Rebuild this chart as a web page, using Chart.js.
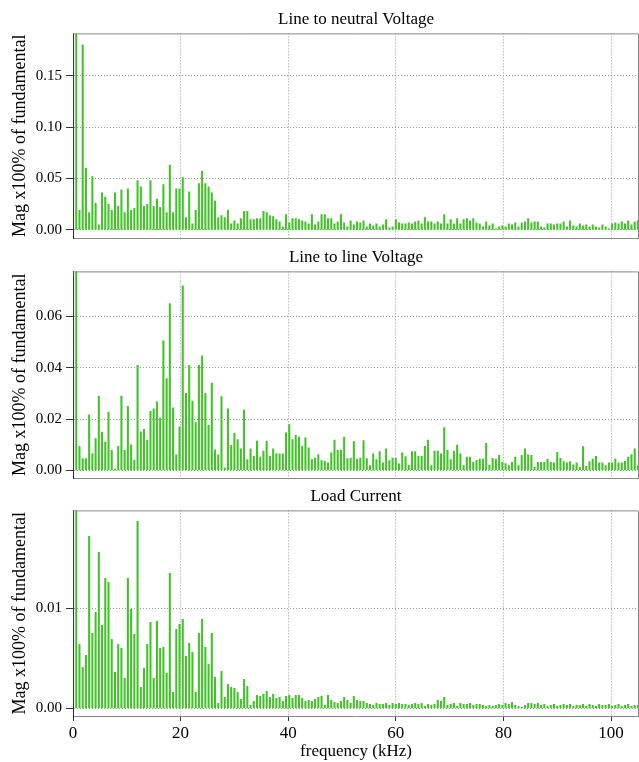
<!DOCTYPE html>
<html>
<head>
<meta charset="utf-8">
<script src="https://cdn.jsdelivr.net/npm/chart.js@4"></script>
<style>
  html, body { margin: 0; padding: 0; background: #fff; }
  #wrap { position: relative; width: 639px; height: 762px; }
  canvas { position: absolute; left: 0; }
</style>
</head>
<body>
<div id="wrap">
  <canvas id="c1" width="639" height="240" style="top:0px"></canvas>
  <canvas id="c2" width="639" height="240" style="top:240px"></canvas>
  <canvas id="c3" width="639" height="282" style="top:480px"></canvas>
</div>
<script>
// fundamental frequency of the harmonic series (kHz)
const F0 = 0.6;

// harmonic magnitudes, x100% of fundamental (harmonic 1 = fundamental)
const lineNeutral = [
  1.0, 0.019, 0.18, 0.06, 0.017, 0.052, 0.026, 0.005, 0.036, 0.032,
  0.025, 0.019, 0.036, 0.023, 0.039, 0.017, 0.040, 0.019, 0.021, 0.048,
  0.042, 0.023, 0.025, 0.048, 0.023, 0.030, 0.022, 0.044, 0.017, 0.063,
  0.017, 0.040, 0.040, 0.051, 0.012, 0.037, 0.006, 0.019, 0.045, 0.057,
  0.045, 0.042, 0.036, 0.028, 0.012, 0.014, 0.012, 0.019, 0.006, 0.009,
  0.006, 0.011, 0.018, 0.018, 0.010, 0.010, 0.011, 0.011, 0.018, 0.017,
  0.014, 0.013, 0.010, 0.008, 0.003, 0.015, 0.007, 0.011, 0.011, 0.010,
  0.009, 0.008, 0.006, 0.015, 0.005, 0.008, 0.015, 0.015, 0.011, 0.011,
  0.006, 0.008, 0.015, 0.007, 0.003, 0.009, 0.005, 0.008, 0.007, 0.009,
  0.003, 0.006, 0.004, 0.006, 0.003, 0.005, 0.010, 0.002, 0.003, 0.010,
  0.007, 0.006, 0.006, 0.007, 0.006, 0.008, 0.009, 0.006, 0.012, 0.008,
  0.008, 0.006, 0.008, 0.006, 0.015, 0.006, 0.010, 0.006, 0.011, 0.006,
  0.010, 0.011, 0.009, 0.011, 0.007, 0.006, 0.003, 0.008, 0.004, 0.006,
  0.001, 0.003, 0.004, 0.003, 0.006, 0.005, 0.007, 0.003, 0.007, 0.008,
  0.011, 0.007, 0.008, 0.008, 0.003, 0.002, 0.006, 0.006, 0.005, 0.006,
  0.006, 0.008, 0.003, 0.009, 0.004, 0.003, 0.006, 0.004, 0.005, 0.003,
  0.005, 0.003, 0.002, 0.005, 0.003, 0.001, 0.006, 0.007, 0.006, 0.008,
  0.006, 0.009, 0.005, 0.008, 0.009
];

const lineLine = [
  1.0, 0.0094, 0.0046, 0.0046, 0.0216, 0.0065, 0.0124, 0.029, 0.0149, 0.011,
  0.0227, 0.0078, 0.0005, 0.0094, 0.029, 0.0078, 0.025, 0.0099, 0.004, 0.041,
  0.015, 0.016, 0.0118, 0.023, 0.024, 0.0267, 0.0204, 0.0505, 0.0358, 0.065,
  0.0244, 0.006, 0.017, 0.072, 0.030, 0.041, 0.027, 0.0186, 0.041, 0.0447,
  0.030, 0.0175, 0.034, 0.008, 0.006, 0.0288, 0.001, 0.024, 0.0097, 0.0144,
  0.012, 0.0084, 0.0235, 0.0042, 0.0084, 0.0055, 0.0114, 0.0052, 0.0075, 0.0114,
  0.0055, 0.0084, 0.0065, 0.0064, 0.0064, 0.0146, 0.0178, 0.012, 0.0136, 0.013,
  0.0094, 0.0127, 0.0088, 0.0042, 0.0048, 0.0061, 0.0038, 0.0035, 0.0029, 0.0068,
  0.0118, 0.0078, 0.0078, 0.013, 0.0046, 0.0048, 0.0112, 0.0044, 0.0048, 0.0116,
  0.0046, 0.0018, 0.0064, 0.0042, 0.0073, 0.0029, 0.0084, 0.0038, 0.0048, 0.0047,
  0.0025, 0.0068, 0.0054, 0.002, 0.0073, 0.0073, 0.0055, 0.0055, 0.0094, 0.0118,
  0.0018, 0.0075, 0.0075, 0.0064, 0.0167, 0.0078, 0.0042, 0.0075, 0.0098, 0.0064,
  0.0018, 0.0052, 0.0052, 0.0031, 0.0039, 0.0044, 0.0044, 0.0105, 0.002, 0.0047,
  0.0044, 0.0058, 0.0031, 0.0026, 0.0018, 0.0031, 0.0052, 0.0018, 0.0058, 0.0084,
  0.006, 0.0058, 0.0012, 0.0031, 0.0031, 0.0031, 0.0044, 0.0031, 0.0029, 0.007,
  0.0047, 0.0034, 0.0029, 0.0034, 0.0021, 0.0029, 0.0012, 0.0093, 0.0016, 0.0034,
  0.0044, 0.0055, 0.0029, 0.0029, 0.0018, 0.0029, 0.0029, 0.0044, 0.0029, 0.0029,
  0.0035, 0.0052, 0.0061, 0.0084, 0.0018
];

const loadCurrent = [
  1.0, 0.0064, 0.0041, 0.0053, 0.0172, 0.0075, 0.0096, 0.0156, 0.0083, 0.013,
  0.0126, 0.0069, 0.0036, 0.0064, 0.006, 0.003, 0.013, 0.0099, 0.0074, 0.0187,
  0.0021, 0.004, 0.0064, 0.0086, 0.003, 0.0087, 0.006, 0.0061, 0.0035, 0.0135,
  0.0016, 0.0079, 0.0084, 0.0089, 0.0052, 0.0065, 0.0056, 0.0016, 0.0075, 0.0089,
  0.0061, 0.0044, 0.0075, 0.0031, 0.0005, 0.0037, 0.0011, 0.0024, 0.0021, 0.002,
  0.0016, 0.0009, 0.0029, 0.0022, 0.0003, 0.0007, 0.0013, 0.0012, 0.0014, 0.0017,
  0.0011, 0.0014, 0.001, 0.0011, 0.0007, 0.0012, 0.0013, 0.001, 0.0013, 0.0013,
  0.001, 0.0007, 0.0008, 0.0007, 0.0009, 0.0011, 0.0012, 0.0003, 0.0013, 0.0008,
  0.0006, 0.0005, 0.0007, 0.0011, 0.0008, 0.0005, 0.0012, 0.0008, 0.0007, 0.0007,
  0.0005, 0.0004, 0.0003, 0.0005, 0.0004, 0.0004, 0.0005, 0.0003, 0.0005, 0.0004,
  0.0005, 0.0004, 0.0004, 0.0003, 0.0004, 0.0005, 0.0004, 0.0005, 0.0002, 0.0004,
  0.0003, 0.0004, 0.0008, 0.0007, 0.0011, 0.0003, 0.0004, 0.0005, 0.0002, 0.0005,
  0.0004, 0.0004, 0.0005, 0.0003, 0.0004, 0.0004, 0.0003, 0.0002, 0.0003, 0.0002,
  0.0003, 0.0004, 0.0003, 0.0005, 0.0004, 0.0006, 0.0003, 0.0002, 0.0001, 0.0003,
  0.0005, 0.0005, 0.0004, 0.0005, 0.0003, 0.0004, 0.0002, 0.0003, 0.0004, 0.0002,
  0.0003, 0.0004, 0.0003, 0.0004, 0.0002, 0.0003, 0.0003, 0.0004, 0.0002, 0.0004,
  0.0003, 0.0002, 0.0004, 0.0003, 0.0003, 0.0004, 0.0002, 0.0003, 0.0004, 0.0002,
  0.0003, 0.0004, 0.0002, 0.0003, 0.0003
];

// tick labels
const xTicks = [0, 20, 40, 60, 80, 100];
const lnTicks = [0, 0.05, 0.10, 0.15];
const llTicks = [0, 0.02, 0.04, 0.06];
const curTicks = [0, 0.01];

const SERIF = "'Liberation Serif', 'Times New Roman', serif";
const BAR_COLOR = 'rgb(65, 195, 40)';

// top and right edges of the plot box
const framePlugin = {
  id: 'frame',
  afterDraw(chart) {
    const { ctx, chartArea: a } = chart;
    ctx.save();
    ctx.strokeStyle = '#888';
    ctx.lineWidth = 1;
    ctx.beginPath();
    ctx.moveTo(a.left, a.top + 0.5);
    ctx.lineTo(a.right - 0.5, a.top + 0.5);
    ctx.lineTo(a.right - 0.5, a.bottom);
    ctx.stroke();
    ctx.restore();
  }
};

function makeChart(id, title, values, yMin, yMax, yTicks, titlePad, showX) {
  const points = values.map((v, i) => ({ x: (i + 1) * F0, y: v }));
  const ctx = document.getElementById(id).getContext('2d');
  return new Chart(ctx, {
    type: 'bar',
    data: {
      datasets: [{
        data: points,
        backgroundColor: BAR_COLOR,
        borderWidth: 0,
        barThickness: 1.4
      }]
    },
    plugins: [framePlugin],
    options: {
      responsive: false,
      animation: false,
      devicePixelRatio: 1,
      layout: { padding: 0 },
      plugins: {
        legend: { display: false },
        tooltip: { enabled: false },
        title: {
          display: true,
          fullSize: false, // center over the plot area, not the canvas
          text: title,
          color: '#000',
          font: { family: SERIF, size: 17, weight: 'normal' },
          padding: titlePad
        }
      },
      scales: {
        x: {
          type: 'linear',
          min: 0,
          max: 105.2,
          offset: false,
          afterBuildTicks: s => { s.ticks = xTicks.map(v => ({ value: v })); },
          afterFit: s => { s.height = showX ? 46 : 2; },
          grid: {
            offset: false,
            color: '#999',
            drawTicks: showX,
            tickLength: 5,
            tickColor: '#333',
            tickBorderDash: []
          },
          border: { color: '#888', dash: [1, 2] },
          ticks: {
            display: showX,
            color: '#000',
            padding: 2,
            maxRotation: 0,
            font: { family: SERIF, size: 17 }
          },
          title: {
            display: showX,
            text: 'frequency (kHz)',
            color: '#000',
            font: { family: SERIF, size: 17 },
            padding: { top: 0, bottom: 0 }
          }
        },
        y: {
          min: yMin,
          max: yMax,
          afterBuildTicks: s => { s.ticks = yTicks.map(v => ({ value: v })); },
          afterFit: s => {
            s.width = 73;
            s.paddingTop = 0;
            s.paddingBottom = 0;
          },
          grid: {
            color: '#999',
            drawTicks: true,
            tickLength: 7,
            tickColor: '#333',
            tickBorderDash: []
          },
          border: { color: '#333', dash: [1, 2] },
          ticks: {
            color: '#000',
            padding: 4,
            font: { family: SERIF, size: 15 },
            callback: v => v.toFixed(2)
          },
          title: {
            display: true,
            text: 'Mag x100% of fundamental',
            color: '#000',
            font: { family: SERIF, size: 18 },
            padding: { top: 9, bottom: 0 }
          }
        }
      }
    }
  });
}

makeChart('c1', 'Line to neutral Voltage', lineNeutral, -0.0078, 0.191, lnTicks, { top: 9, bottom: 4 }, false);
makeChart('c2', 'Line to line Voltage', lineLine, -0.003, 0.0776, llTicks, { top: 7, bottom: 4 }, false);
makeChart('c3', 'Load Current', loadCurrent, -0.00077, 0.0198, curTicks, { top: 6, bottom: 4 }, true);
</script>
</body>
</html>
